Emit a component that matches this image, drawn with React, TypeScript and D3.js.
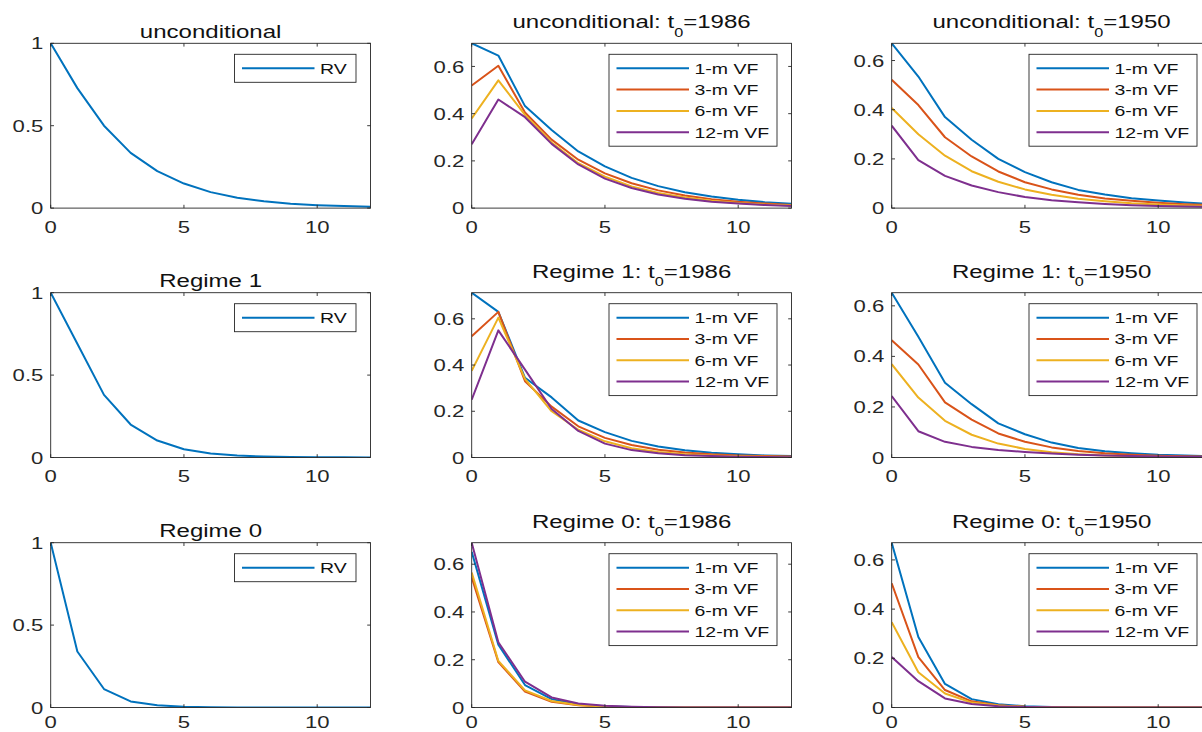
import React from "react";
import * as d3 from "d3";

// ---------- data ----------
const horizons = [0, 1, 2, 3, 4, 5, 6, 7, 8, 9, 10, 11, 12];
const xTicks = [0, 5, 10];
const rvTicks = [0, 0.5, 1];
const vfTicks = [0, 0.2, 0.4, 0.6];

const rvLabels = ["RV"];
const vfLabels = ["1-m VF", "3-m VF", "6-m VF", "12-m VF"];

const uncondRV = [1, 0.728, 0.5, 0.335, 0.224, 0.149, 0.097, 0.063, 0.041, 0.027, 0.018, 0.012, 0.008];
const regime1RV = [1, 0.69, 0.38, 0.2, 0.103, 0.05, 0.024, 0.012, 0.006, 0.003, 0.0015, 0.001, 0.0005];
const regime0RV = [1, 0.34, 0.112, 0.037, 0.013, 0.004, 0.0015, 0.0005, 0.0002, 0.0001, 0, 0, 0];

const u86_1m = [0.698, 0.646, 0.432, 0.331, 0.24, 0.177, 0.128, 0.093, 0.067, 0.049, 0.035, 0.025, 0.018];
const u86_3m = [0.519, 0.603, 0.405, 0.29, 0.205, 0.147, 0.105, 0.075, 0.053, 0.038, 0.027, 0.019, 0.013];
const u86_6m = [0.38, 0.541, 0.395, 0.278, 0.19, 0.133, 0.092, 0.064, 0.045, 0.031, 0.022, 0.015, 0.011];
const u86_12m = [0.27, 0.46, 0.385, 0.272, 0.185, 0.125, 0.085, 0.058, 0.04, 0.027, 0.019, 0.013, 0.009];

const u50_1m = [0.67, 0.535, 0.37, 0.278, 0.2, 0.146, 0.105, 0.074, 0.055, 0.04, 0.031, 0.023, 0.017];
const u50_3m = [0.522, 0.419, 0.288, 0.21, 0.149, 0.105, 0.076, 0.054, 0.039, 0.03, 0.022, 0.016, 0.012];
const u50_6m = [0.407, 0.3, 0.213, 0.15, 0.107, 0.076, 0.054, 0.038, 0.028, 0.02, 0.015, 0.011, 0.008];
const u50_12m = [0.335, 0.195, 0.131, 0.092, 0.065, 0.045, 0.032, 0.024, 0.017, 0.012, 0.009, 0.006, 0.005];

const r1_86_1m = [0.713, 0.63, 0.345, 0.26, 0.16, 0.11, 0.072, 0.048, 0.031, 0.021, 0.014, 0.009, 0.006];
const r1_86_3m = [0.525, 0.63, 0.33, 0.22, 0.135, 0.085, 0.054, 0.034, 0.022, 0.014, 0.009, 0.006, 0.004];
const r1_86_6m = [0.375, 0.605, 0.34, 0.2, 0.12, 0.07, 0.04, 0.024, 0.014, 0.009, 0.005, 0.003, 0.002];
const r1_86_12m = [0.25, 0.55, 0.38, 0.21, 0.115, 0.06, 0.032, 0.018, 0.01, 0.006, 0.003, 0.002, 0.001];

const r1_50_1m = [0.652, 0.478, 0.296, 0.211, 0.135, 0.092, 0.059, 0.038, 0.025, 0.017, 0.011, 0.008, 0.005];
const r1_50_3m = [0.464, 0.368, 0.218, 0.15, 0.095, 0.062, 0.04, 0.026, 0.017, 0.011, 0.007, 0.005, 0.003];
const r1_50_6m = [0.369, 0.237, 0.145, 0.09, 0.055, 0.034, 0.021, 0.013, 0.008, 0.005, 0.003, 0.002, 0.001];
const r1_50_12m = [0.243, 0.104, 0.062, 0.042, 0.03, 0.022, 0.016, 0.011, 0.008, 0.006, 0.004, 0.003, 0.002];

const r0_86_1m = [0.652, 0.263, 0.094, 0.035, 0.013, 0.005, 0.002, 0.001, 0, 0, 0, 0, 0];
const r0_86_3m = [0.545, 0.19, 0.067, 0.024, 0.009, 0.003, 0.001, 0, 0, 0, 0, 0, 0];
const r0_86_6m = [0.565, 0.195, 0.072, 0.027, 0.01, 0.004, 0.001, 0, 0, 0, 0, 0, 0];
const r0_86_12m = [0.69, 0.273, 0.108, 0.042, 0.017, 0.007, 0.003, 0.001, 0, 0, 0, 0, 0];

const r0_50_1m = [0.67, 0.287, 0.096, 0.034, 0.013, 0.005, 0.002, 0.001, 0, 0, 0, 0, 0];
const r0_50_3m = [0.505, 0.205, 0.071, 0.025, 0.009, 0.003, 0.001, 0, 0, 0, 0, 0, 0];
const r0_50_6m = [0.347, 0.143, 0.057, 0.02, 0.008, 0.003, 0.001, 0, 0, 0, 0, 0, 0];
const r0_50_12m = [0.205, 0.107, 0.037, 0.014, 0.005, 0.002, 0.001, 0, 0, 0, 0, 0, 0];

const colors = ["#0072BD", "#D95319", "#EDB120", "#7E2F8E"];

type Panel = {
  title: string;
  year?: string;
  series: number[][];
  labels: string[];
  yTicks: number[];
};

const panels: Panel[][] = [
  [
    { title: "unconditional", series: [uncondRV], labels: rvLabels, yTicks: rvTicks },
    { title: "unconditional: t", year: "=1986", series: [u86_1m, u86_3m, u86_6m, u86_12m], labels: vfLabels, yTicks: vfTicks },
    { title: "unconditional: t", year: "=1950", series: [u50_1m, u50_3m, u50_6m, u50_12m], labels: vfLabels, yTicks: vfTicks },
  ],
  [
    { title: "Regime 1", series: [regime1RV], labels: rvLabels, yTicks: rvTicks },
    { title: "Regime 1: t", year: "=1986", series: [r1_86_1m, r1_86_3m, r1_86_6m, r1_86_12m], labels: vfLabels, yTicks: vfTicks },
    { title: "Regime 1: t", year: "=1950", series: [r1_50_1m, r1_50_3m, r1_50_6m, r1_50_12m], labels: vfLabels, yTicks: vfTicks },
  ],
  [
    { title: "Regime 0", series: [regime0RV], labels: rvLabels, yTicks: rvTicks },
    { title: "Regime 0: t", year: "=1986", series: [r0_86_1m, r0_86_3m, r0_86_6m, r0_86_12m], labels: vfLabels, yTicks: vfTicks },
    { title: "Regime 0: t", year: "=1950", series: [r0_50_1m, r0_50_3m, r0_50_6m, r0_50_12m], labels: vfLabels, yTicks: vfTicks },
  ],
];

// ---------- layout ----------
const W = 1202;
const H = 732;
const colLeft = [50.7, 471.7, 891.7];
const rowTop = [43.3, 292.7, 542.7];
const plotW = 319.8;
const plotH = 164.8;
const SX = 1.3;
const FONT = "'Liberation Sans', Arial, Helvetica, sans-serif";
const AX = "#262626";
const tickLen = 3.3;

function fmt(v: number) {
  return String(Math.round(v * 10) / 10);
}

function SText(props: { x: number; y: number; size: number; anchor?: string; fill?: string; children: React.ReactNode }) {
  const { x, y, size, anchor = "start", fill = AX, children } = props;
  return (
    <text
      transform={`translate(${x},${y}) scale(${SX},1)`}
      fontSize={size}
      textAnchor={anchor}
      fill={fill}
      fontFamily={FONT}
    >
      {children}
    </text>
  );
}

function PanelView({ p, left, top, id }: { p: Panel; left: number; top: number; id: string }) {
  const ymax = d3.max(p.series.flat()) as number;
  const x = d3.scaleLinear().domain([0, 12]).range([left, left + plotW]);
  const y = d3.scaleLinear().domain([0, ymax]).range([top + plotH, top]);
  const line = d3
    .line<number>()
    .x((_, i) => x(horizons[i]))
    .y((d) => y(d));
  const bottom = top + plotH;
  const right = left + plotW;
  const cx = left + plotW / 2;
  const xLabelY = Math.min(bottom + 24.6, H - 4.2);

  const n = p.labels.length;
  const legW = n === 1 ? 121.5 : 168;
  const legH = 28 + (n - 1) * 21.3;
  const legRight = right - 14.5;
  const legLeft = legRight - legW;
  const legTop = top + 11;

  return (
    <g>
      <defs>
        <clipPath id={id}>
          <rect x={left} y={top} width={plotW} height={plotH} />
        </clipPath>
      </defs>
      <rect x={left} y={top} width={plotW} height={plotH} fill="#fff" />
      {/* data */}
      <g clipPath={`url(#${id})`}>
        {p.series.map((s, i) => (
          <path key={i} d={line(s) || ""} fill="none" stroke={colors[i]} strokeWidth={2} strokeLinejoin="round" />
        ))}
      </g>
      {/* box */}
      <rect x={left} y={top} width={plotW} height={plotH} fill="none" stroke={AX} strokeWidth={0.9} />
      {/* x ticks */}
      {xTicks.map((t) => (
        <g key={"x" + t}>
          <line x1={x(t)} x2={x(t)} y1={bottom} y2={bottom - tickLen} stroke={AX} strokeWidth={0.9} />
          <line x1={x(t)} x2={x(t)} y1={top} y2={top + tickLen} stroke={AX} strokeWidth={0.9} />
          <SText x={x(t)} y={xLabelY} size={17} anchor="middle">
            {String(t)}
          </SText>
        </g>
      ))}
      {/* y ticks */}
      {p.yTicks
        .filter((t) => t <= ymax + 1e-9)
        .map((t) => (
          <g key={"y" + t}>
            <line x1={left} x2={left + tickLen} y1={y(t)} y2={y(t)} stroke={AX} strokeWidth={0.9} />
            <line x1={right} x2={right - tickLen} y1={y(t)} y2={y(t)} stroke={AX} strokeWidth={0.9} />
            <SText x={left - 7.4} y={y(t) + 6.1} size={17} anchor="end">
              {fmt(t)}
            </SText>
          </g>
        ))}
      {/* title */}
      {p.year ? (
        <SText x={cx} y={top - 15} size={18.5} anchor="middle" fill="#111">
          <tspan>{p.title}</tspan>
          <tspan fontSize={12.5} dy={8.4}>0</tspan>
          <tspan dy={-8.4}>{p.year}</tspan>
        </SText>
      ) : (
        <SText x={cx} y={top - 5.8} size={18.5} anchor="middle" fill="#111">
          {p.title}
        </SText>
      )}
      {/* legend */}
      <rect x={legLeft} y={legTop} width={legW} height={legH} fill="#fff" stroke={AX} strokeWidth={0.9} />
      {p.labels.map((lab, i) => {
        const ry = legTop + 14 + i * 21.3;
        return (
          <g key={lab}>
            <line x1={legLeft + 7.5} x2={legLeft + 80} y1={ry} y2={ry} stroke={colors[i]} strokeWidth={2} />
            <SText x={legLeft + 85.5} y={ry + 5.4} size={15} fill="#111">
              {lab}
            </SText>
          </g>
        );
      })}
    </g>
  );
}

export default function App() {
  return (
    <svg
      width={W}
      height={H}
      viewBox={`0 0 ${W} ${H}`}
      style={{ position: "absolute", left: 0, top: 0, background: "#fff" }}
    >
      <rect x={0} y={0} width={W} height={H} fill="#fff" />
      {panels.map((row, r) =>
        row.map((p, c) => (
          <PanelView key={`${r}-${c}`} p={p} left={colLeft[c]} top={rowTop[r]} id={`clip-${r}-${c}`} />
        ))
      )}
    </svg>
  );
}
